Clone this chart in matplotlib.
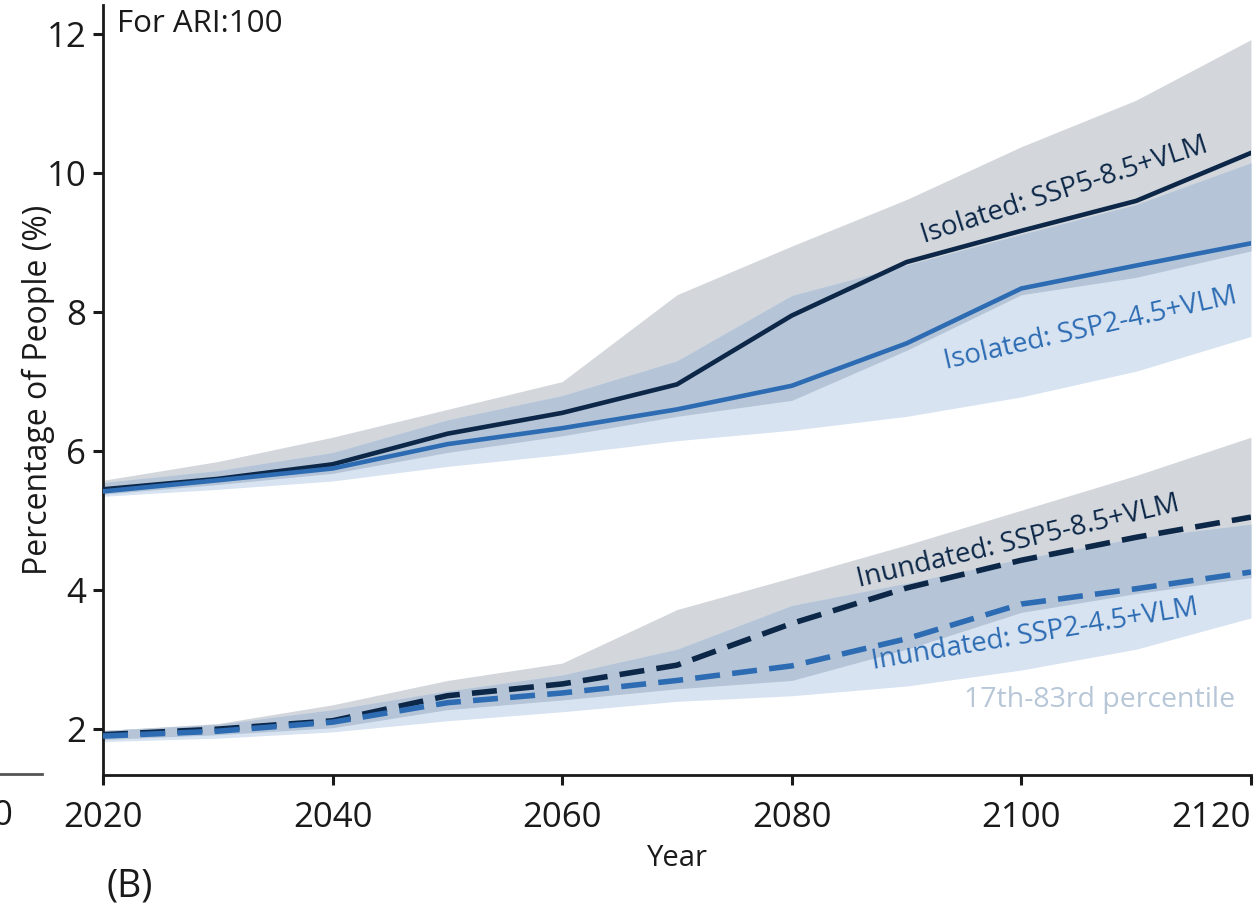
import numpy as np
import matplotlib
matplotlib.use('Agg')
import matplotlib.pyplot as plt
from matplotlib.lines import Line2D

plt.rcParams['font.family'] = ['Open Sans', 'DejaVu Sans']

# ---- data ----
years = [2020, 2030, 2040, 2050, 2060, 2070, 2080, 2090, 2100, 2110, 2120]

# Isolated people
iso_585 = [5.45, 5.60, 5.81, 6.25, 6.55, 6.96, 7.95, 8.72, 9.17, 9.60, 10.29]
iso_245 = [5.42, 5.58, 5.75, 6.10, 6.33, 6.60, 6.94, 7.55, 8.34, 8.67, 8.99]
iso_585_lo = [5.38, 5.52, 5.68, 5.98, 6.22, 6.50, 6.73, 7.45, 8.25, 8.50, 8.88]
iso_585_hi = [5.58, 5.85, 6.20, 6.60, 7.00, 8.25, 8.95, 9.62, 10.38, 11.05, 11.92]
iso_245_lo = [5.35, 5.45, 5.57, 5.78, 5.95, 6.15, 6.30, 6.50, 6.78, 7.15, 7.65]
iso_245_hi = [5.55, 5.72, 5.98, 6.45, 6.80, 7.30, 8.24, 8.68, 9.12, 9.55, 10.15]

# Inundated people
ind_585 = [1.92, 2.00, 2.12, 2.48, 2.65, 2.92, 3.52, 4.03, 4.43, 4.76, 5.05]
ind_245 = [1.90, 1.97, 2.10, 2.38, 2.52, 2.70, 2.91, 3.30, 3.80, 4.02, 4.26]
ind_585_lo = [1.85, 1.92, 2.02, 2.28, 2.42, 2.58, 2.70, 3.15, 3.68, 3.95, 4.18]
ind_585_hi = [1.98, 2.08, 2.35, 2.70, 2.95, 3.72, 4.18, 4.65, 5.15, 5.65, 6.20]
ind_245_lo = [1.82, 1.87, 1.96, 2.12, 2.25, 2.40, 2.48, 2.62, 2.85, 3.15, 3.60]
ind_245_hi = [1.98, 2.07, 2.28, 2.55, 2.78, 3.15, 3.78, 4.10, 4.45, 4.75, 4.95]

x_ticks = [2020, 2040, 2060, 2080, 2100, 2120]
y_ticks = [2, 4, 6, 8, 10, 12]

# ---- colours ----
c_dark = '#0c2747'
c_blue = '#2d6cb3'
c_gray_band = '#d3d7dc'
c_blue_band = '#d7e3f1'
c_overlap = '#b5c5d7'
c_note = '#b7c7d8'
c_text = '#1a1a1a'

fig = plt.figure(figsize=(12.59, 9.06), dpi=100)
ax = fig.add_axes([0.0818, 0.1446, 0.9118, 0.85])


def draw_bands(lo5, hi5, lo2, hi2):
    lo5, hi5, lo2, hi2 = map(np.array, (lo5, hi5, lo2, hi2))
    ax.fill_between(years, lo5, hi5, color=c_gray_band, lw=0, zorder=1)
    ax.fill_between(years, lo2, hi2, color=c_blue_band, lw=0, zorder=1)
    # 겹치는 구간은 진하게
    ov_lo = np.maximum(lo5, lo2)
    ov_hi = np.minimum(hi5, hi2)
    ax.fill_between(years, ov_lo, ov_hi, where=ov_hi > ov_lo,
                    color=c_overlap, lw=0, zorder=2)


draw_bands(iso_585_lo, iso_585_hi, iso_245_lo, iso_245_hi)
draw_bands(ind_585_lo, ind_585_hi, ind_245_lo, ind_245_hi)

ax.plot(years, iso_585, color=c_dark, lw=3.3, zorder=4, solid_joinstyle='round')
ax.plot(years, iso_245, color=c_blue, lw=3.3, zorder=4, solid_joinstyle='round')
ax.plot(years, ind_585, color=c_dark, lw=4.0, dashes=(4.5, 2.2), zorder=4)
ax.plot(years, ind_245, color=c_blue, lw=4.0, dashes=(4.5, 2.2), zorder=4)

# ---- labels on the curves ----
ax.text(2103.8, 9.75, 'Isolated: SSP5-8.5+VLM', color=c_dark, fontsize=20,
        rotation=17.8, rotation_mode='anchor', ha='center', va='center', zorder=5)
ax.text(2106.0, 7.76, 'Isolated: SSP2-4.5+VLM', color=c_blue, fontsize=20,
        rotation=12.8, rotation_mode='anchor', ha='center', va='center', zorder=5)
ax.text(2099.7, 4.69, 'Inundated: SSP5-8.5+VLM', color=c_dark, fontsize=20,
        rotation=13.4, rotation_mode='anchor', ha='center', va='center', zorder=5)
ax.text(2101.2, 3.36, 'Inundated: SSP2-4.5+VLM', color=c_blue, fontsize=20,
        rotation=9.5, rotation_mode='anchor', ha='center', va='center', zorder=5)
ax.text(2106.8, 2.42, '17th-83rd percentile', color=c_note, fontsize=20.5,
        ha='center', va='center', zorder=5)
ax.text(2021.2, 12.15, 'For ARI:100', color=c_text, fontsize=22.5,
        ha='left', va='center', zorder=5)

# ---- axes ----
ax.set_xlim(2020, 2120)
ax.set_ylim(1.34, 12.42)
ax.set_xticks(x_ticks)
ax.set_yticks(y_ticks)
ax.tick_params(axis='both', labelsize=25, width=2.2, length=7, color=c_text,
               labelcolor=c_text)
ax.xaxis.set_tick_params(pad=12)
ax.yaxis.set_tick_params(pad=5)
# 마지막 x 라벨은 그림 끝에 맞춰 오른쪽 정렬
ax.get_xticklabels()[-1].set_horizontalalignment('right')
for s in ['top', 'right']:
    ax.spines[s].set_visible(False)
for s in ['left', 'bottom']:
    ax.spines[s].set_linewidth(2.0)
    ax.spines[s].set_color(c_text)
ax.set_xlabel('Year', fontsize=21, color=c_text, labelpad=6)
ax.set_ylabel('Percentage of People (%)', fontsize=23, color=c_text)
ax.yaxis.set_label_coords(-0.042, 0.5)

# 왼쪽 패널의 잘린 흔적과 패널 표시
fig.text(2 / 1259, 1 - 816 / 906, '0', fontsize=25, color=c_text,
         ha='center', va='center')
fig.add_artist(Line2D([0, 42 / 1259], [1 - 774 / 906, 1 - 774 / 906],
                      color='#555555', lw=2.0))
fig.text(130 / 1259, 1 - 887 / 906, '(B)', fontsize=27, color=c_text,
         ha='center', va='center')

fig.savefig('out.png', dpi=100)
